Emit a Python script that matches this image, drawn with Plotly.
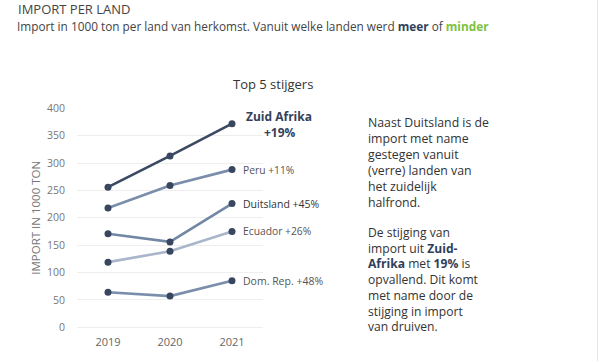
import plotly.graph_objects as go

years = ["2019", "2020", "2021"]
countries = ["Zuid Afrika", "Peru", "Duitsland", "Ecuador", "Dom. Rep."]
values = {
    "Zuid Afrika": [256, 313, 372],
    "Peru": [218, 259, 288],
    "Duitsland": [171, 156, 226],
    "Ecuador": [119, 139, 175],
    "Dom. Rep.": [64, 57, 85],
}
changes = ["+19%", "+11%", "+45%", "+26%", "+48%"]
y_ticks = [0, 50, 100, 150, 200, 250, 300, 350, 400]

line_colors = {
    "Zuid Afrika": "#3b4963",
    "Peru": "#7a8eab",
    "Duitsland": "#7387a5",
    "Ecuador": "#a9b6ca",
    "Dom. Rep.": "#7a8eab",
}
marker_color = "#39465f"
FONT = "Segoe UI, Open Sans, Noto Sans, sans-serif"

W, H = 600, 361
fig = go.Figure()
for c in countries:
    fig.add_trace(go.Scatter(
        x=years, y=values[c], mode="lines+markers", name=c,
        line=dict(color=line_colors[c], width=2.6),
        marker=dict(color=marker_color, size=7),
        cliponaxis=False, showlegend=False, hoverinfo="skip",
    ))

# end labels (x given as category index of the last year)
label_styles = {
    "Peru": dict(size=10.3, color="#555555"),
    "Duitsland": dict(size=10.5, color="#333333"),
    "Ecuador": dict(size=10.3, color="#555555"),
    "Dom. Rep.": dict(size=10.5, color="#555555"),
}
last_idx = len(years) - 1
for c, ch in zip(countries, changes):
    if c == "Zuid Afrika":
        fig.add_annotation(x=last_idx, y=values[c][-1], xref="x", yref="y",
                           text=f"<b>{c}</b>", showarrow=False,
                           xanchor="center", yanchor="middle", xshift=47, yshift=7,
                           font=dict(size=12, color="#34415a", family=FONT))
        fig.add_annotation(x=last_idx, y=values[c][-1], xref="x", yref="y",
                           text=f"<b>{ch}</b>", showarrow=False,
                           xanchor="center", yanchor="middle", xshift=48, yshift=-9,
                           font=dict(size=12, color="#34415a", family=FONT))
    else:
        st = label_styles[c]
        fig.add_annotation(x=last_idx, y=values[c][-1], xref="x", yref="y",
                           text=f"{c} {ch}", showarrow=False,
                           xanchor="left", yanchor="middle", xshift=9,
                           font=dict(size=st["size"], color=st["color"], family=FONT))

# header
fig.add_annotation(x=16 / W, y=1 - 9 / H, xref="paper", yref="paper", text="IMPORT PER LAND",
                   showarrow=False, xanchor="left", yanchor="middle",
                   font=dict(size=13, color="#444444", family=FONT))
fig.add_annotation(x=15 / W, y=1 - 26 / H, xref="paper", yref="paper",
                   text="Import in 1000 ton per land van herkomst. Vanuit welke landen werd "
                        "<b><span style='color:#2e3f5c'>meer</span></b> of "
                        "<b><span style='color:#7dc242'>minder</span></b>",
                   showarrow=False, xanchor="left", yanchor="middle",
                   font=dict(size=11.8, color="#444444", family=FONT))
fig.add_annotation(x=273 / W, y=1 - 84 / H, xref="paper", yref="paper", text="Top 5 stijgers",
                   showarrow=False, xanchor="center", yanchor="middle",
                   font=dict(size=13, color="#333333", family=FONT))

para1 = ("Naast Duitsland is de<br>import met name<br>gestegen vanuit<br>(verre) landen van<br>"
         "het zuidelijk<br>halfrond.")
para2 = ("De stijging van<br>import uit "
         "<b><span style='color:#2e3f5c'>Zuid-</span></b><br>"
         "<b><span style='color:#2e3f5c'>Afrika</span></b> met "
         "<b><span style='color:#2e3f5c'>19%</span></b> is<br>opvallend. Dit komt<br>"
         "met name door de<br>stijging in import<br>van druiven.")
fig.add_annotation(x=366 / W, y=1 - 112 / H, xref="paper", yref="paper", text=para1,
                   showarrow=False, xanchor="left", yanchor="top", align="left",
                   font=dict(size=12.3, color="#333333", family=FONT))
fig.add_annotation(x=366 / W, y=1 - 221.5 / H, xref="paper", yref="paper", text=para2,
                   showarrow=False, xanchor="left", yanchor="top", align="left",
                   font=dict(size=12.1, color="#333333", family=FONT))

# faint frame line at right edge
fig.add_shape(type="line", xref="paper", yref="paper", x0=597.5 / W, x1=597.5 / W, y0=0, y1=1,
              line=dict(color="#e6e6e6", width=1))

fig.update_layout(
    width=W, height=H,
    margin=dict(l=0, r=0, t=0, b=0, pad=0, autoexpand=False),
    paper_bgcolor="white", plot_bgcolor="white",
    font=dict(family=FONT, color="#777777"),
    xaxis=dict(domain=[77 / W, 263 / W], type="category", range=[-0.5, 2.5],
               showgrid=False, zeroline=False, showline=False, ticks="",
               ticklabelstandoff=7, automargin=False,
               tickfont=dict(size=11, color="#666666")),
    yaxis=dict(domain=[1 - 327.3 / H, 1 - 108.3 / H], range=[0, 400],
               tickvals=y_ticks, showgrid=True, gridcolor="#eeeeee", gridwidth=1,
               zeroline=True, zerolinecolor="#eeeeee", zerolinewidth=1,
               showline=False, ticks="", ticklabelstandoff=11, automargin=False,
               tickfont=dict(size=10.5, color="#777777"),
               title=dict(text="IMPORT IN 1000 TON", standoff=3,
                          font=dict(size=11.5, color="#777777"))),
)

post = (
    "document.documentElement.style.margin='0';"
    "document.documentElement.style.overflow='hidden';"
    "document.body.style.margin='0';"
    "document.body.style.overflow='hidden';"
    "var d=document.getElementById('{plot_id}');"
    "d.style.position='fixed';d.style.left='0px';d.style.top='0px';"
)
fig.write_html("out.html", post_script=post, config={"displayModeBar": False})
